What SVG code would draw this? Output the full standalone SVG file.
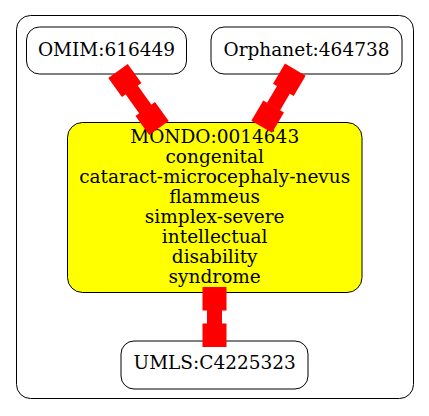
<svg xmlns="http://www.w3.org/2000/svg" width="429" height="416" viewBox="0 0 429 416">
<style>
.node rect{stroke:#000;stroke-width:1}
text{font-family:"DejaVu Serif",serif;font-size:18.5px;text-anchor:middle;fill:#000}
.edge rect{fill:#ff0000}
</style>
<rect width="429" height="416" fill="#fff"/>
<rect id="cluster" x="16.5" y="15.5" width="397" height="383" rx="14" fill="none" stroke="#000" stroke-width="1"/>
<g id="omim" class="node">
<rect x="26.5" y="27" width="160" height="47" rx="13" fill="#fff"/>
<text x="106.5" y="55.7">OMIM:616449</text>
</g>
<g id="orphanet" class="node">
<rect x="211" y="27" width="191" height="47" rx="13" fill="#fff"/>
<text x="306.5" y="55.7">Orphanet:464738</text>
</g>
<g id="mondo" class="node">
<rect x="67.5" y="122.5" width="294.5" height="170" rx="15" fill="#ffff00"/>
<text x="214.7" y="142.7">MONDO:0014643</text>
<text x="214.7" y="162.7">congenital</text>
<text x="214.7" y="182.7">cataract-microcephaly-nevus</text>
<text x="214.7" y="202.7">flammeus</text>
<text x="214.7" y="222.7">simplex-severe</text>
<text x="214.7" y="242.7">intellectual</text>
<text x="214.7" y="262.7">disability</text>
<text x="214.7" y="282.7">syndrome</text>
</g>
<g id="umls" class="node">
<rect x="121" y="341" width="187" height="48" rx="13" fill="#fff"/>
<text x="214.7" y="369.3">UMLS:C4225323</text>
</g>
<g id="edges" class="edge">
<g transform="translate(118,71) rotate(54.3)">
<rect x="0" y="-12" width="23.5" height="24"/>
<rect x="23" y="-7.5" width="24.2" height="15"/>
<rect x="46.7" y="-12" width="23.5" height="24"/>
</g>
<g transform="translate(295.3,69.7) rotate(120.5)">
<rect x="0" y="-12" width="23.5" height="24"/>
<rect x="23" y="-7.5" width="20.2" height="15"/>
<rect x="42.7" y="-12" width="23.5" height="24"/>
</g>
<g transform="translate(214.5,287) rotate(90)">
<rect x="0" y="-12" width="23.5" height="24"/>
<rect x="23" y="-7.5" width="14" height="15"/>
<rect x="36.5" y="-12" width="23.5" height="24"/>
</g>
</g>
</svg>
